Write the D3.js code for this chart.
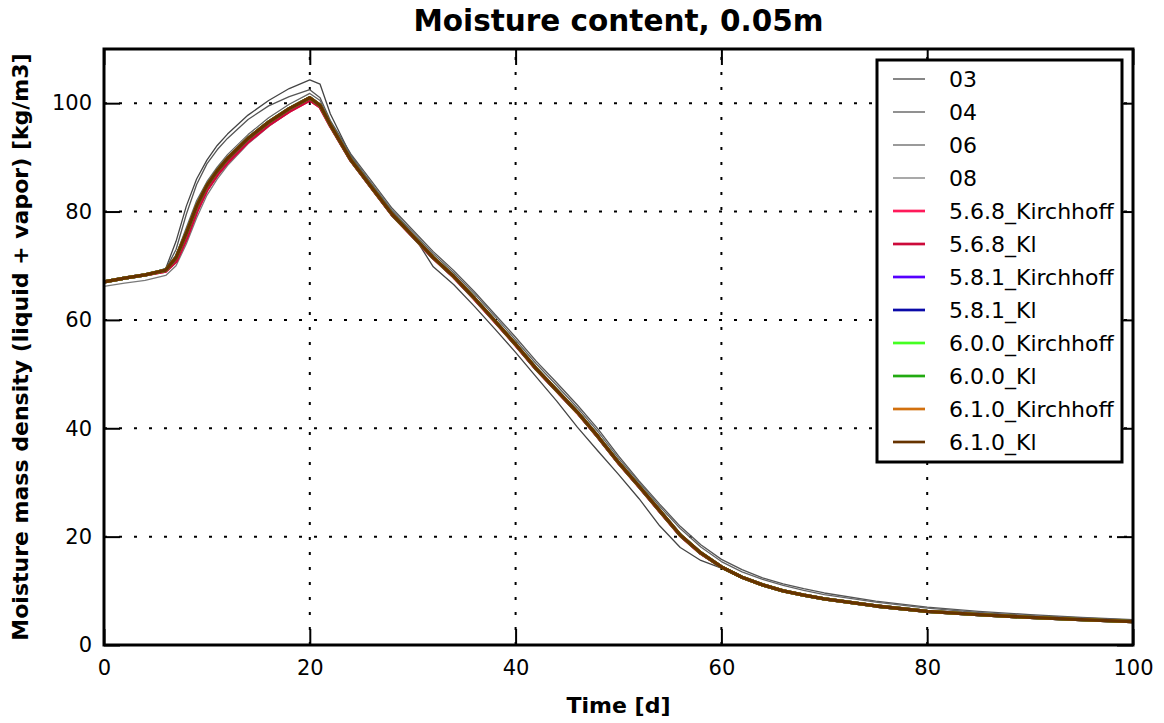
<!DOCTYPE html>
<html>
<head>
<meta charset="utf-8">
<script src="https://cdn.jsdelivr.net/npm/d3@7"></script>
<style>
	body { margin: 0; background: #fff; }
	svg { font-family: "DejaVu Sans", sans-serif; }
</style>
</head>
<body>
<div id="chart01"></div>
<script>
// time axis [d]
var days = [0, 2, 4, 6, 7, 8, 9, 10, 11, 12, 14, 16, 18, 20, 21, 22, 24, 26, 28, 30,
	32, 34, 36, 38, 40, 42, 44, 46, 48, 50, 52, 54, 56, 58, 60, 62, 64, 66, 68, 70,
	75, 80, 85, 90, 95, 100];

// reference runs (gray)
var run03 = [67.0, 67.6, 68.2, 69.5, 74.5, 81.0, 86.0, 89.5, 92.2, 94.3, 97.8, 100.5, 102.7, 104.3, 103.5, 98.0,
	90.3, 85.0, 80.0, 75.8, 69.8, 66.5, 62.5, 58.3, 54.0, 49.5, 45.0, 40.2, 35.8, 31.5,
	27.0, 22.0, 18.0, 15.6, 14.2, 12.4, 11.0, 9.9, 9.1, 8.4, 7.1, 6.1, 5.5, 5.0, 4.6, 4.3];
var run04 = [67.0, 67.7, 68.3, 69.3, 73.0, 79.5, 85.0, 88.8, 91.4, 93.5, 97.0, 99.5, 101.2, 102.5, 101.0, 96.8,
	90.6, 85.6, 80.6, 76.6, 72.6, 69.1, 65.2, 61.0, 56.8, 52.4, 48.4, 44.3, 39.9, 34.9,
	30.3, 26.0, 21.9, 18.5, 15.8, 13.9, 12.4, 11.3, 10.4, 9.6, 8.1, 7.0, 6.2, 5.6, 5.1, 4.7];
var run06 = [67.0, 67.7, 68.3, 69.2, 72.0, 77.0, 82.0, 85.5, 88.2, 90.5, 94.2, 97.3, 99.8, 101.8, 100.5, 96.5,
	90.2, 85.2, 80.2, 76.2, 72.2, 68.7, 64.8, 60.6, 56.3, 51.9, 47.9, 43.8, 39.4, 34.5,
	30.0, 25.6, 21.5, 18.1, 15.4, 13.5, 12.1, 11.0, 10.1, 9.3, 7.9, 6.8, 6.0, 5.4, 5.0, 4.6];
var run08 = [66.2, 66.8, 67.3, 68.2, 70.0, 74.0, 78.8, 83.0, 86.0, 88.5, 92.5, 95.7, 98.4, 100.6, 99.3, 95.8,
	89.4, 84.4, 79.4, 75.4, 71.4, 67.9, 63.9, 59.7, 55.4, 50.9, 46.9, 42.9, 38.4, 33.6,
	29.2, 24.7, 20.2, 16.9, 14.4, 12.5, 11.1, 10.0, 9.2, 8.5, 7.2, 6.2, 5.6, 5.1, 4.7, 4.3];

// model versions (coloured)
var v568 = [67.0, 67.7, 68.3, 69.0, 70.8, 75.0, 80.0, 84.0, 86.8, 89.1, 92.9, 96.0, 98.5, 100.6, 99.3, 95.8,
	89.4, 84.4, 79.4, 75.4, 71.4, 67.9, 63.9, 59.7, 55.4, 50.9, 46.9, 42.9, 38.4, 33.6,
	29.2, 24.7, 20.2, 16.9, 14.4, 12.5, 11.1, 10.0, 9.2, 8.5, 7.2, 6.2, 5.6, 5.1, 4.7, 4.3];
var vNew = [67.0, 67.7, 68.3, 69.2, 71.5, 76.0, 81.0, 84.8, 87.5, 89.8, 93.5, 96.5, 99.0, 101.0, 99.6, 96.0,
	89.5, 84.5, 79.5, 75.5, 71.5, 68.0, 64.0, 59.8, 55.5, 51.0, 47.0, 43.0, 38.5, 33.7,
	29.3, 24.8, 20.3, 17.0, 14.4, 12.5, 11.1, 10.0, 9.2, 8.5, 7.2, 6.2, 5.6, 5.1, 4.7, 4.3];

var seriesNames = ["03", "04", "06", "08", "5.6.8_Kirchhoff", "5.6.8_Kl", "5.8.1_Kirchhoff", "5.8.1_Kl",
	"6.0.0_Kirchhoff", "6.0.0_Kl", "6.1.0_Kirchhoff", "6.1.0_Kl"];
var seriesValues = [run03, run04, run06, run08, v568, v568, vNew, vNew, vNew, vNew, vNew, vNew];
var seriesColors = ["#444444", "#555555", "#646464", "#7a7a7a", "#ff1a5a", "#cc0a3a", "#5500ff", "#0a0aa8",
	"#44ff22", "#22aa11", "#d2700e", "#663300"];

var xTicks = [0, 20, 40, 60, 80, 100];
var yTicks = [0, 20, 40, 60, 80, 100];

var width = 1164;
var height = 723;
var margin = { top: 49, right: 31, bottom: 78, left: 104 };

var svg = d3.select("#chart01").append("svg")
	.attr("width", width)
	.attr("height", height);

var x = d3.scaleLinear().domain([0, 100]).range([margin.left, width - margin.right]);
var y = d3.scaleLinear().domain([0, 110]).range([height - margin.bottom, margin.top]);

// grid
svg.append("g")
	.selectAll("line")
	.data(xTicks)
	.join("line")
	.attr("x1", (d) => x(d)).attr("x2", (d) => x(d))
	.attr("y1", y(0)).attr("y2", y(110))
	.attr("stroke", "#000")
	.attr("stroke-width", 2)
	.attr("stroke-dasharray", "3,12");
svg.append("g")
	.selectAll("line")
	.data(yTicks)
	.join("line")
	.attr("x1", x(0)).attr("x2", x(100))
	.attr("y1", (d) => y(d)).attr("y2", (d) => y(d))
	.attr("stroke", "#000")
	.attr("stroke-width", 2)
	.attr("stroke-dasharray", "3,12");

// lines
var line = d3.line()
	.x((d, i) => x(days[i]))
	.y((d) => y(d));

svg.append("g")
	.selectAll("path")
	.data(seriesValues)
	.join("path")
	.attr("d", (d) => line(d))
	.attr("fill", "none")
	.attr("stroke", (d, i) => seriesColors[i])
	.attr("stroke-width", (d, i) => (i < 4 ? 1.3 : 3.3))
	.attr("stroke-linejoin", "round");

// axes with inward ticks
var tickLen = 16;
var xAxis = svg.append("g")
	.attr("transform", `translate(0, ${y(0)})`)
	.call(d3.axisBottom(x).tickValues(xTicks).tickSize(-tickLen).tickPadding(15));
var xAxisTop = svg.append("g")
	.attr("transform", `translate(0, ${y(110)})`)
	.call(d3.axisTop(x).tickValues(xTicks).tickSize(-tickLen).tickFormat(""));
var yAxis = svg.append("g")
	.attr("transform", `translate(${x(0)}, 0)`)
	.call(d3.axisLeft(y).tickValues(yTicks).tickSize(-tickLen).tickPadding(12));
var yAxisRight = svg.append("g")
	.attr("transform", `translate(${x(100)}, 0)`)
	.call(d3.axisRight(y).tickValues(yTicks).tickSize(-tickLen).tickFormat(""));

[xAxis, xAxisTop, yAxis, yAxisRight].forEach((g) => {
	g.select(".domain").remove();
	g.selectAll(".tick line").attr("stroke", "#000").attr("stroke-width", 2);
	g.selectAll("text")
		.attr("fill", "#000")
		.style("font-size", "21px")
		.style("font-family", "DejaVu Sans");
});

// frame
svg.append("rect")
	.attr("x", x(0))
	.attr("y", y(110))
	.attr("width", x(100) - x(0))
	.attr("height", y(0) - y(110))
	.attr("fill", "none")
	.attr("stroke", "#000")
	.attr("stroke-width", 3);

// title and labels
svg.append("text")
	.attr("x", (x(0) + x(100)) / 2)
	.attr("y", 31)
	.attr("text-anchor", "middle")
	.attr("font-size", "29.5px")
	.attr("font-weight", "bold")
	.text("Moisture content, 0.05m");

svg.append("text")
	.attr("x", (x(0) + x(100)) / 2)
	.attr("y", 713)
	.attr("text-anchor", "middle")
	.attr("font-size", "22px")
	.attr("font-weight", "bold")
	.text("Time [d]");

svg.append("text")
	.attr("transform", `translate(28, ${(y(0) + y(110)) / 2}) rotate(-90)`)
	.attr("text-anchor", "middle")
	.attr("font-size", "22px")
	.attr("font-weight", "bold")
	.text("Moisture mass density (liquid + vapor) [kg/m3]");

// legend
var legend = svg.append("g").attr("transform", "translate(877, 60)");
legend.append("rect")
	.attr("width", 245)
	.attr("height", 402)
	.attr("fill", "#fff")
	.attr("stroke", "#000")
	.attr("stroke-width", 3);
var rows = legend.selectAll(".legend-row")
	.data(seriesNames)
	.join("g")
	.attr("class", "legend-row")
	.attr("transform", (d, i) => `translate(0, ${19 + i * 33})`);
rows.append("line")
	.attr("x1", 16).attr("x2", 48)
	.attr("stroke", (d, i) => seriesColors[i])
	.attr("stroke-width", (d, i) => (i < 4 ? 1.3 : 2.7));
rows.append("text")
	.attr("x", 72)
	.attr("dy", "0.36em")
	.attr("font-size", "22px")
	.text((d) => d);
</script>
</body>
</html>
